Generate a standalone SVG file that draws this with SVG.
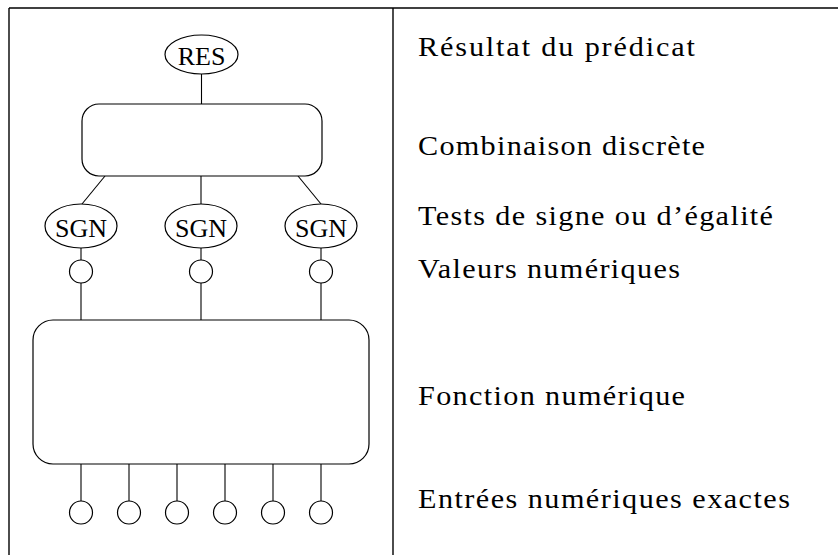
<svg xmlns="http://www.w3.org/2000/svg" width="838" height="555" viewBox="0 0 838 555">
<style>
.frame{stroke:#000;stroke-width:1.4;fill:none}
.shape{stroke:#000;stroke-width:1.2;fill:#fff}
.conn{stroke:#000;stroke-width:1.1;fill:none}
.lbl{font-family:"Liberation Serif","DejaVu Serif",serif;font-size:26px;fill:#000}
.desc{font-family:"Liberation Serif","DejaVu Serif",serif;font-size:27px;fill:#000}
</style>
<rect width="838" height="555" fill="#fff"/>
<g id="frame">
<line class="frame" x1="9" y1="8" x2="838" y2="8"/>
<line class="frame" x1="9" y1="8" x2="9" y2="555"/>
<line class="frame" x1="393" y1="8" x2="393" y2="555"/>
</g>
<g id="connectors">
<line class="conn" x1="201.5" y1="74" x2="201.5" y2="104"/>
<line class="conn" x1="105" y1="176" x2="82" y2="204"/>
<line class="conn" x1="201" y1="176" x2="201" y2="204"/>
<line class="conn" x1="298" y1="176" x2="321" y2="204"/>
<line class="conn" x1="81" y1="248" x2="81" y2="260"/>
<line class="conn" x1="201" y1="248" x2="201" y2="260"/>
<line class="conn" x1="321" y1="248" x2="321" y2="260"/>
<line class="conn" x1="81" y1="283" x2="81" y2="320"/>
<line class="conn" x1="201" y1="283" x2="201" y2="320"/>
<line class="conn" x1="321" y1="283" x2="321" y2="320"/>
<line class="conn" x1="81" y1="464" x2="81" y2="501"/>
<line class="conn" x1="129" y1="464" x2="129" y2="501"/>
<line class="conn" x1="177" y1="464" x2="177" y2="501"/>
<line class="conn" x1="225" y1="464" x2="225" y2="501"/>
<line class="conn" x1="273" y1="464" x2="273" y2="501"/>
<line class="conn" x1="321" y1="464" x2="321" y2="501"/>
</g>
<g id="res">
<ellipse class="shape" cx="201.5" cy="54.5" rx="36.5" ry="19.5"/>
<text class="lbl" x="201.5" y="65" text-anchor="middle">RES</text>
</g>
<g id="combinaison">
<rect class="shape" x="82" y="104" width="240" height="72" rx="17" ry="17"/>
</g>
<g id="sgn1">
<ellipse class="shape" cx="81" cy="226" rx="36" ry="22"/>
<text class="lbl" x="81" y="237" text-anchor="middle">SGN</text>
</g>
<g id="sgn2">
<ellipse class="shape" cx="201" cy="226" rx="36" ry="22"/>
<text class="lbl" x="201" y="237" text-anchor="middle">SGN</text>
</g>
<g id="sgn3">
<ellipse class="shape" cx="321" cy="226" rx="36" ry="22"/>
<text class="lbl" x="321" y="237" text-anchor="middle">SGN</text>
</g>
<g id="val1"><circle class="shape" cx="81" cy="271.5" r="11.5"/></g>
<g id="val2"><circle class="shape" cx="201" cy="271.5" r="11.5"/></g>
<g id="val3"><circle class="shape" cx="321" cy="271.5" r="11.5"/></g>
<g id="fonction">
<rect class="shape" x="33" y="320" width="336" height="144" rx="20" ry="20"/>
</g>
<g id="in1"><circle class="shape" cx="81" cy="512.5" r="11.5"/></g>
<g id="in2"><circle class="shape" cx="129" cy="512.5" r="11.5"/></g>
<g id="in3"><circle class="shape" cx="177" cy="512.5" r="11.5"/></g>
<g id="in4"><circle class="shape" cx="225" cy="512.5" r="11.5"/></g>
<g id="in5"><circle class="shape" cx="273" cy="512.5" r="11.5"/></g>
<g id="in6"><circle class="shape" cx="321" cy="512.5" r="11.5"/></g>
<g id="legend" transform="translate(418,0) scale(1.12,1)">
<text class="desc" x="0" y="56" textLength="247.3" lengthAdjust="spacing">Résultat du prédicat</text>
<text class="desc" x="0" y="155" textLength="256.3" lengthAdjust="spacing">Combinaison discrète</text>
<text class="desc" x="0" y="225" textLength="317" lengthAdjust="spacing">Tests de signe ou d’égalité</text>
<text class="desc" x="0" y="278" textLength="233.9" lengthAdjust="spacing">Valeurs numériques</text>
<text class="desc" x="0" y="405" textLength="238.4" lengthAdjust="spacing">Fonction numérique</text>
<text class="desc" x="0" y="508" textLength="332.1" lengthAdjust="spacing">Entrées numériques exactes</text>
</g>
</svg>
